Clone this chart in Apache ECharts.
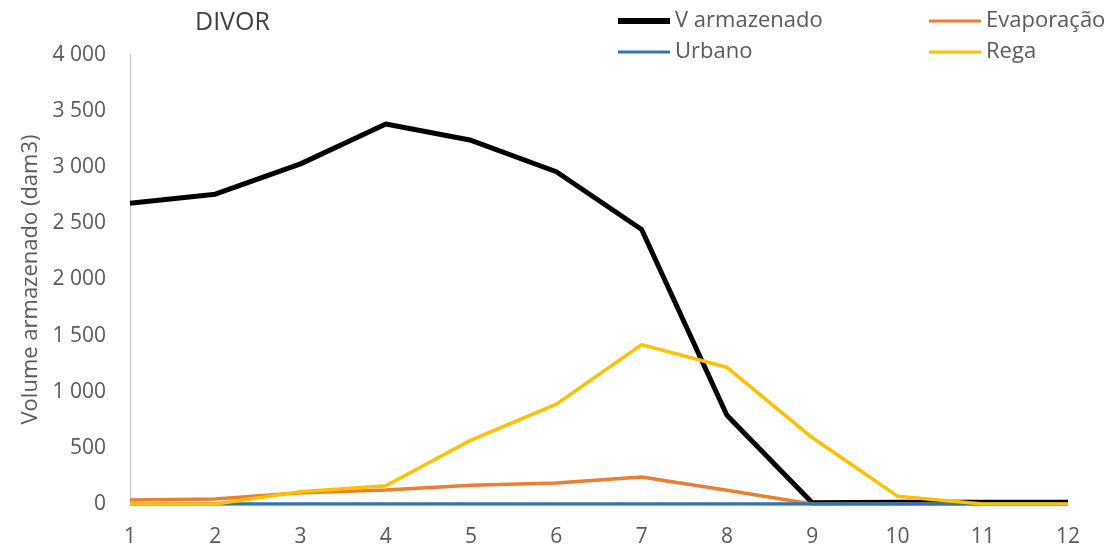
<!DOCTYPE html>
<html>
<head>
<meta charset="utf-8">
<script src="https://cdn.jsdelivr.net/npm/echarts@6/dist/echarts.min.js"></script>
<style>html,body{margin:0;padding:0;background:#fff}#c{width:1107px;height:546px}</style>
</head>
<body>
<div id="c"></div>
<script>
const categories = ['1','2','3','4','5','6','7','8','9','10','11','12'];
const vArmazenado = [2680, 2760, 3030, 3385, 3240, 2960, 2445, 790, 12, 15, 15, 15];
const evaporacao = [36, 45, 100, 125, 166, 187, 240, 122, 0, 0, 0, 0];
const urbano = [0, 0, 0, 0, 0, 0, 0, 0, 0, 0, 0, 0];
const rega = [0, 0, 110, 162, 570, 890, 1420, 1218, 592, 70, 0, 0];
const yTicks = [0, 500, 1000, 1500, 2000, 2500, 3000, 3500, 4000];

const FONT = 'Open Sans';
const chart = echarts.init(document.getElementById('c'));
function legendAt(name, left, top, h) {
  return {
    data: [name], left: left, top: top, icon: 'rect', itemWidth: 52, itemHeight: h,
    itemGap: 0, padding: 0,
    textStyle: { fontFamily: FONT, fontSize: 22, color: '#595959', padding: [0,0,0,0] }
  };
}
chart.setOption({
  animation: false,
  title: { text: 'DIVOR', left: 190, top: 5,
    textStyle: { fontFamily: FONT, fontSize: 25, fontWeight: 'normal', color: '#404040' } },
  legend: [
    legendAt('V armazenado', 618, 10, 6),
    legendAt('Evaporação', 929, 10, 3),
    legendAt('Urbano', 618, 41, 3),
    legendAt('Rega', 929, 41, 3)
  ],
  grid: { left: 130, right: 39, top: 55, bottom: 42, containLabel: false, outerBoundsMode: 'none' },
  xAxis: {
    type: 'category', data: categories, boundaryGap: false,
    axisLine: { show: true, lineStyle: { color: '#d9d9d9', width: 1 } },
    axisTick: { show: false },
    axisLabel: { fontFamily: FONT, fontSize: 21, color: '#595959', margin: 23 }
  },
  yAxis: {
    type: 'value', min: yTicks[0], max: yTicks[yTicks.length-1], interval: 500,
    name: 'Volume armazenado (dam3)', nameLocation: 'middle', nameGap: 87,
    nameTextStyle: { fontFamily: FONT, fontSize: 22, color: '#595959' },
    axisLine: { show: true, lineStyle: { color: '#bfbfbf', width: 1 } },
    axisTick: { show: false },
    splitLine: { show: false },
    axisLabel: { fontFamily: FONT, fontSize: 21, color: '#595959', margin: 24,
      padding: [5, 0, 0, 0],
      formatter: v => String(v).replace(/\B(?=(\d{3})+(?!\d))/g, ' ') }
  },
  series: [
    { name: 'V armazenado', type: 'line', data: vArmazenado, symbol: 'none',
      lineStyle: { color: '#000000', width: 5 }, itemStyle: { color: '#000000' }, z: 2 },
    { name: 'Evaporação', type: 'line', data: evaporacao, symbol: 'none',
      lineStyle: { color: '#ED7D31', width: 3.5 }, itemStyle: { color: '#ED7D31' }, z: 3 },
    { name: 'Urbano', type: 'line', data: urbano, symbol: 'none',
      lineStyle: { color: '#2E75B6', width: 3.5 }, itemStyle: { color: '#2E75B6' }, z: 4 },
    { name: 'Rega', type: 'line', data: rega, symbol: 'none',
      lineStyle: { color: '#FFC000', width: 3.5 }, itemStyle: { color: '#FFC000' }, z: 5 }
  ]
});
</script>
</body>
</html>
